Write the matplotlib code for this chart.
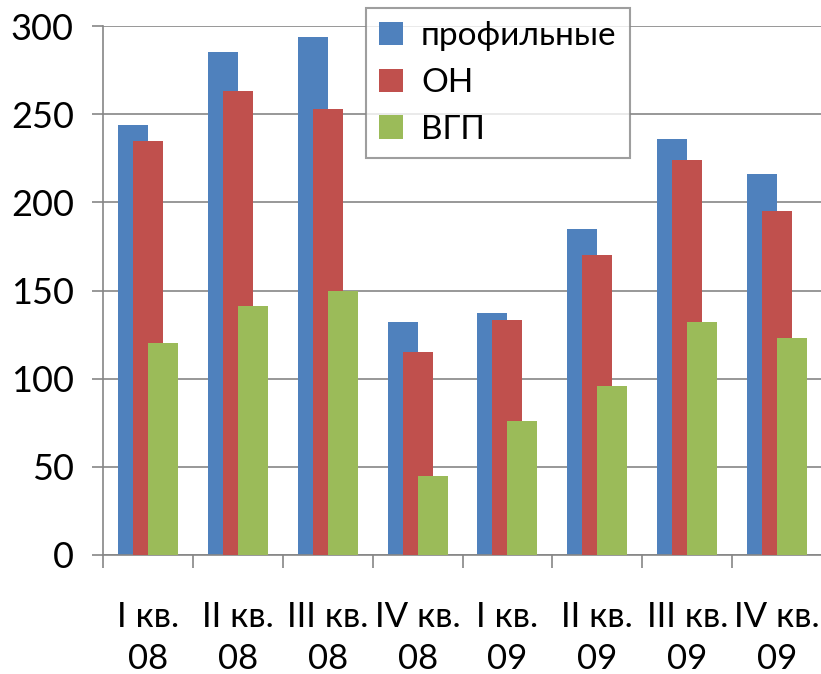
import numpy as np
import matplotlib
matplotlib.use("Agg")
import matplotlib.pyplot as plt

plt.rcParams['font.family'] = ['Lato', 'DejaVu Sans']

# quarters
categories = ['I кв.\n08', 'II кв.\n08', 'III кв.\n08', 'IV кв.\n08',
              'I кв.\n09', 'II кв.\n09', 'III кв.\n09', 'IV кв.\n09']
profil = [244, 285, 294, 132, 137, 185, 236, 216]
on_vals = [235, 263, 253, 115, 133, 170, 224, 195]
vgp = [120, 141, 150, 45, 76, 96, 132, 123]

series_names = ['профильные', 'ОН', 'ВГП']
colors = ['#4F81BD', '#C0504D', '#9BBB59']
gray = '#868686'

fig = plt.figure(figsize=(8.21, 6.74), dpi=100)
ax = fig.add_axes([103/821, 1-555/674, 719/821, 529/674])

x = np.arange(len(categories))
w = 1/3
for i, (vals, name, c) in enumerate(zip([profil, on_vals, vgp], series_names, colors)):
    ax.bar(x + (i - 1) * w / 2, vals, width=w, color=c, label=name, zorder=2 + i)

ax.set_xlim(-0.5, len(categories) - 0.5)
ax.set_ylim(0, 300)
ax.set_yticks(np.arange(0, 301, 50))
ax.yaxis.grid(True, color=gray, lw=1.2, zorder=0)
ax.set_axisbelow(True)

for side in ['top', 'right']:
    ax.spines[side].set_visible(False)
for side in ['left', 'bottom']:
    ax.spines[side].set_color(gray)
    ax.spines[side].set_linewidth(1.2)

# category ticks between groups, labels centered
ax.set_xticks(np.arange(-0.5, len(categories), 1))
ax.set_xticklabels([])
ax.set_xticks(x, minor=True)
ax.set_xticklabels(categories, minor=True, fontsize=25, linespacing=1.4)
ax.tick_params(axis='x', which='minor', length=0, pad=33)
ax.tick_params(axis='x', which='major', length=9, color=gray, width=1.2)
ax.tick_params(axis='y', length=8, color=gray, width=1.2, labelsize=26, pad=13)

leg = ax.legend(loc='upper left', bbox_to_anchor=(366/821, 1-8/674),
                bbox_transform=fig.transFigure, borderaxespad=0,
                fontsize=24, fancybox=False, edgecolor=gray,
                handlelength=0.7, handleheight=0.7, handletextpad=0.55,
                labelspacing=0.5, borderpad=0.4)
leg.get_frame().set_linewidth(1.5)

fig.savefig('out.png', dpi=100)
